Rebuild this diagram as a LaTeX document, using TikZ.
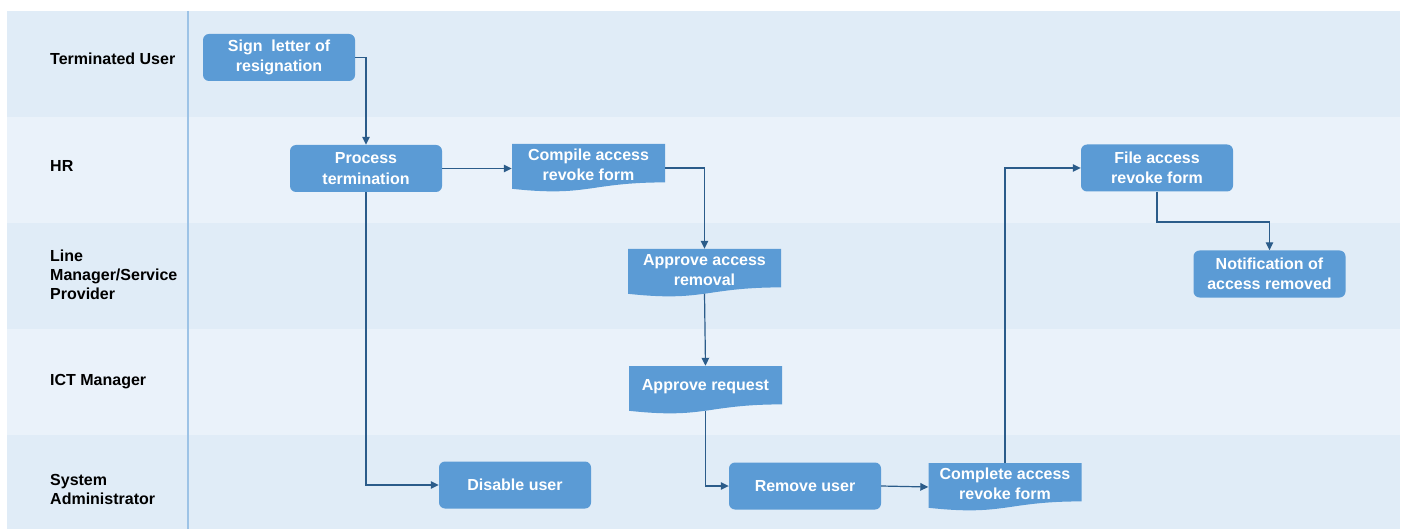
\documentclass[tikz,border=0pt]{standalone}
\usepackage{fontspec}
\setmainfont{Liberation Sans}
\usetikzlibrary{arrows.meta,calc}
\definecolor{laneA}{HTML}{E0ECF7}
\definecolor{laneB}{HTML}{EAF2FA}
\definecolor{sepline}{HTML}{9DC3E6}
\definecolor{boxfill}{HTML}{5B9BD5}
\definecolor{arrcol}{HTML}{2B5C8A}
\newcommand\docnode[4]{%
  \fill[boxfill] (#2-76.5,#3-24) -- (#2+76.5,#3-24) -- (#2+76.5,#3+14.4)
    .. controls (#2,#3+14.4) and (#2,#3+29.1) .. (#2-76.5,#3+20.8) -- cycle;
  \node[docbox] (#1) at (#2,#3) {};
  \node[doctext] (#1-t) at (#2,#3-3) {#4};
  \coordinate (#1-b) at (#2,#3+20.6);
}
\begin{document}
\begin{tikzpicture}[x=1pt,y=-1pt,
  stepbox/.style={fill=boxfill, rounded corners=6pt, minimum width=152pt, minimum height=47pt,
    text=white, font=\bfseries\fontsize{16}{20.5}\selectfont, align=center, inner sep=0pt},
  docbox/.style={minimum width=153pt, minimum height=48pt, inner sep=0pt},
  doctext/.style={text=white, font=\bfseries\fontsize{16}{20.5}\selectfont, align=center, inner sep=0pt},
  lanelabel/.style={anchor=west, align=left, font=\bfseries\fontsize{16}{19}\selectfont, text=black, inner sep=0pt},
  flow/.style={draw=arrcol, line width=1.2pt, -{Triangle[length=8pt,width=7.5pt]}}]
\useasboundingbox (0,0) rectangle (1405,529);
\fill[white] (0,0) rectangle (1405,529);
% lanes
\fill[laneA] (7,11) rectangle (1400,117);
\fill[laneB] (7,117) rectangle (1400,223);
\fill[laneA] (7,223) rectangle (1400,329);
\fill[laneB] (7,329) rectangle (1400,435);
\fill[laneA] (7,435) rectangle (1400,529);
\draw[sepline, line width=1.2pt] (188,11) -- (188,529);
% lane labels
\node[lanelabel] (l1) at (50,59) {Terminated User};
\node[lanelabel] (l2) at (50,166) {HR};
\node[lanelabel] (l3) at (50,275) {Line\\Manager/Service\\Provider};
\node[lanelabel] (l4) at (50,382) {ICT Manager};
\node[lanelabel] (l5) at (50,489) {System\\Administrator};
% steps
\node[stepbox] (sign) at (279,57.5) {Sign\ \ letter of\\resignation};
\node[stepbox] (proc) at (366,168.5) {Process\\termination};
\docnode{compile}{588.5}{168}{Compile access\\revoke form}
\docnode{removal}{704.5}{273}{Approve access\\removal}
\docnode{request}{705.5}{390}{Approve request}
\node[stepbox] (disable) at (515,485) {Disable user};
\node[stepbox] (remove) at (805,486) {Remove user};
\docnode{complete}{1005}{487}{Complete access\\revoke form}
\node[stepbox] (file) at (1157,168) {File access\\revoke form};
\node[stepbox] (notif) at (1269.5,274) {Notification of\\access removed};
% connectors
\draw[flow] (sign.east) -| (proc.north);
\draw[flow] (proc.east) -- (proc.east -| compile.west);
\draw[flow] (compile.east) -| (removal.north);
\draw[flow] (removal-b) -- (request.north);
\draw[flow] (request-b) |- (remove.west);
\draw[flow] (proc.south) |- (disable.west);
\draw[flow] (remove.east) -- (complete.west);
\draw[flow] (complete.north) |- (file.west);
\coordinate (fbend) at (1157,222);
\draw[flow] (file.south) -- (fbend) -| (notif.north);
\end{tikzpicture}
\end{document}
